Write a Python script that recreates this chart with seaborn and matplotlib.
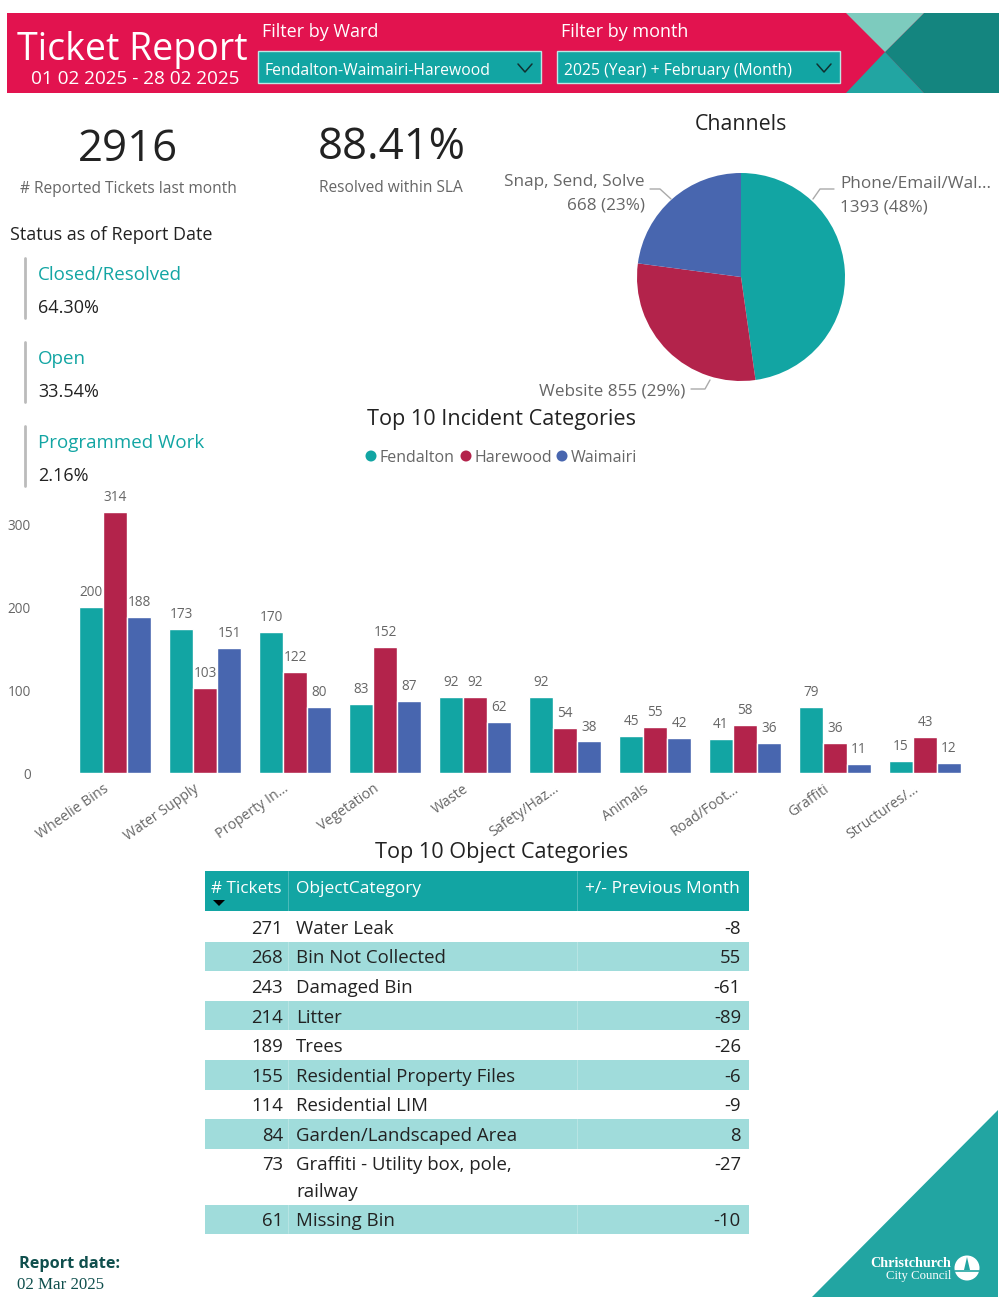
import matplotlib
matplotlib.use("Agg")
import matplotlib.pyplot as plt
from matplotlib.patches import Polygon, Rectangle, Circle
from matplotlib.transforms import ScaledTranslation
import pandas as pd
import seaborn as sns

# ── Data ───────────────────────────────────────────────────────────
CATEGORIES = ["Wheelie Bins", "Water Supply", "Property In...", "Vegetation", "Waste",
              "Safety/Haz...", "Animals", "Road/Foot...", "Graffiti", "Structures/..."]
FENDALTON = [200, 173, 170, 83, 92, 92, 45, 41, 79, 15]
HAREWOOD = [314, 103, 122, 152, 92, 54, 55, 58, 36, 43]
WAIMAIRI = [188, 151, 80, 87, 62, 38, 42, 36, 11, 12]
WARDS = ["Fendalton", "Harewood", "Waimairi"]

CHANNELS = ["Phone/Email/Wal...", "Website", "Snap, Send, Solve"]
CHANNEL_VALUES = [1393, 855, 668]

TICKETS = [271, 268, 243, 214, 189, 155, 114, 84, 73, 61]
OBJECTS = ["Water Leak", "Bin Not Collected", "Damaged Bin", "Litter", "Trees",
           "Residential Property Files", "Residential LIM", "Garden/Landscaped Area",
           "Graffiti - Utility box, pole,\nrailway", "Missing Bin"]
PREV_MONTH = [-8, 55, -61, -89, -26, -6, -9, 8, -27, -10]

STATUS_NAMES = ["Closed/Resolved", "Open", "Programmed Work"]
STATUS_VALUES = ["64.30%", "33.54%", "2.16%"]

# ── Colours ────────────────────────────────────────────────────────
TEAL = "#12A5A3"
RED = "#B3234B"
BLUE = "#4866AF"
PINK = "#E2134F"
BAND = "#A0DCDB"
GREY = "#666666"
DARK = "#222222"
PALETTE = [TEAL, RED, BLUE]

W, H = 1004, 1312
sns.set_theme(style="white")
plt.rcParams["font.family"] = ["Open Sans", "DejaVu Sans"]

fig = plt.figure(figsize=(W / 100, H / 100), dpi=100, facecolor="white")


def box(left, top, right, bottom):
    return [left / W, 1 - bottom / H, (right - left) / W, (bottom - top) / H]


# overlay in pixel coordinates for the page furniture
page = fig.add_axes([0, 0, 1, 1])
page.set_xlim(0, W)
page.set_ylim(H, 0)
page.axis("off")


def put(x, y, s, **kw):
    # the font sits a little high when centred
    kw.setdefault("va", "center")
    return page.text(x, y + 3.7, s, **kw)


# ── Header banner ──────────────────────────────────────────────────
page.add_patch(Rectangle((7, 13), 992, 80, color=PINK, lw=0))
page.add_patch(Polygon([(885, 52), (924, 13), (999, 13), (999, 93), (924, 93)], color="#14857F", lw=0))
page.add_patch(Polygon([(846, 13), (924, 13), (885, 52)], color="#7DCBBE", lw=0))
page.add_patch(Polygon([(846, 93), (885, 52), (924, 93)], color="#22A5A2", lw=0))
put(132, 46, "Ticket Report", color="white", fontsize=27, ha="center")
put(135, 75, "01 02 2025 - 28 02 2025", color="white", fontsize=13.7, ha="center")

for x0, label, value in [(258, "Filter by Ward", "Fendalton-Waimairi-Harewood"),
                         (557, "Filter by month", "2025 (Year) + February (Month)")]:
    width = 283
    put(x0 + 4, 28, label, color="white", fontsize=13, ha="left")
    page.add_patch(Rectangle((x0, 51), width, 32, facecolor=TEAL, edgecolor="#BFE6E4", lw=1))
    put(x0 + 7, 67, value, color="white", fontsize=11.3, ha="left")
    page.plot([x0 + width - 23, x0 + width - 16, x0 + width - 9], [64, 72, 64], color="#103030", lw=1.1)

# ── KPIs ───────────────────────────────────────────────────────────
put(128, 146, "2916", color=DARK, fontsize=31.5, ha="center")
put(128, 185, "# Reported Tickets last month", color=GREY, fontsize=11.2, ha="center")
put(392, 144, "88.41%", color=DARK, fontsize=31.5, ha="center")
put(391, 184, "Resolved within SLA", color=GREY, fontsize=11.2, ha="center")

put(10, 231, "Status as of Report Date", color=DARK, fontsize=13, ha="left")
for i, (name, value) in enumerate(zip(STATUS_NAMES, STATUS_VALUES)):
    top = 258 + i * 84
    page.plot([25, 25], [top, top + 60], color="#BBBBBB", lw=2)
    put(38, top + 13, name, color=TEAL, fontsize=13.5, ha="left")
    put(38, top + 46, value, color=DARK, fontsize=13, ha="left")

# ── Channels pie ───────────────────────────────────────────────────
put(741, 121, "Channels", color=DARK, fontsize=15.4, ha="center")
pie_ax = fig.add_axes(box(637, 173, 845, 381))
pie_ax.pie(CHANNEL_VALUES, colors=PALETTE, startangle=90, counterclock=False, radius=1.0,
           wedgeprops={"linewidth": 0})
pie_ax.set_xlim(-1, 1)
pie_ax.set_ylim(-1, 1)

page.plot([813, 820, 834], [199, 189, 189], color="#AAAAAA", lw=1)
put(840, 180, CHANNELS[0], color=GREY, fontsize=12.3, ha="left")
put(840, 204, f"{CHANNEL_VALUES[0]} (48%)", color=GREY, fontsize=12.3, ha="left")
page.plot([671, 660, 650], [199, 189, 189], color="#AAAAAA", lw=1)
put(645, 178, CHANNELS[2], color=GREY, fontsize=12.3, ha="right")
put(645, 202, f"{CHANNEL_VALUES[2]} (23%)", color=GREY, fontsize=12.3, ha="right")
page.plot([691, 705, 710], [389, 389, 380], color="#AAAAAA", lw=1)
put(685, 388, f"{CHANNELS[1]} {CHANNEL_VALUES[1]} (29%)", color=GREY, fontsize=12.3, ha="right")

# ── Top 10 incident categories ─────────────────────────────────────
put(502, 416, "Top 10 Incident Categories", color=DARK, fontsize=15.6, ha="center")
for x, ward, color in zip([371, 466, 562], WARDS, PALETTE):
    page.add_patch(Circle((x, 456), 5.5, color=color, lw=0))
    put(x + 9, 454, ward, color=GREY, fontsize=11.5, ha="left")

incidents = pd.DataFrame({
    "category": CATEGORIES * 3,
    "ward": [w for w in WARDS for _ in CATEGORIES],
    "tickets": FENDALTON + HAREWOOD + WAIMAIRI,
})
bar_ax = fig.add_axes(box(70, 490, 970, 773))
bar_ax.patch.set_alpha(0)
sns.barplot(data=incidents, x="category", y="tickets", hue="ward", palette=PALETTE,
            width=0.8, gap=0, saturation=1, legend=False, ax=bar_ax)
for container in bar_ax.containers:
    bar_ax.bar_label(container, padding=5, color=GREY, fontsize=9.8)
bar_ax.set_xlim(-0.5, 9.5)
bar_ax.set_ylim(0, 341)
bar_ax.set_yticks([0, 100, 200, 300])
bar_ax.set_xlabel("")
bar_ax.set_ylabel("")
bar_ax.tick_params(axis="y", length=0, pad=28, labelsize=9.8, labelcolor=GREY)
bar_ax.tick_params(axis="x", length=0, pad=6, labelsize=10.2, labelcolor=GREY)
plt.setp(bar_ax.get_xticklabels(), rotation=35, ha="right", rotation_mode="anchor")
nudge = ScaledTranslation(-12 / 100, 0, fig.dpi_scale_trans)
for tick_label in bar_ax.get_xticklabels():
    tick_label.set_transform(tick_label.get_transform() + nudge)
sns.despine(ax=bar_ax, left=True, bottom=True)

# ── Top 10 object categories table ─────────────────────────────────
put(502, 849, "Top 10 Object Categories", color=DARK, fontsize=15.6, ha="center")
page.add_patch(Rectangle((205, 871), 544, 40, color=TEAL, lw=0))
put(282, 885, "# Tickets", color="white", fontsize=12.3, ha="right")
put(296, 885, "ObjectCategory", color="white", fontsize=12.5, ha="left")
put(740, 885, "+/- Previous Month", color="white", fontsize=12.5, ha="right")
page.add_patch(Polygon([(213, 900), (225, 900), (219, 906)], color="black", lw=0))

y = 912
for i, (count, name, delta) in enumerate(zip(TICKETS, OBJECTS, PREV_MONTH)):
    height = 56 if "\n" in name else 29.6
    if i % 2 == 1:
        page.add_patch(Rectangle((205, y), 544, height, color=BAND, lw=0))
    put(283, y + 13, str(count), color=DARK, fontsize=13.3, ha="right")
    put(296, y + 13, name.split("\n")[0], color=DARK, fontsize=13.4, ha="left")
    if "\n" in name:
        put(296, y + 40, name.split("\n")[1], color=DARK, fontsize=13.4, ha="left")
    put(741, y + 13, str(delta), color=DARK, fontsize=13.3, ha="right")
    y += height
for x in [288, 577]:
    page.plot([x, x], [871, 1233], color="white", lw=0.5, alpha=0.35)

# ── Footer ─────────────────────────────────────────────────────────
put(19, 1260, "Report date:", color="#0F4F4D", fontsize=11.7, fontweight="bold", ha="left")
put(17, 1281, "02 Mar 2025", color="#0F4F4D", fontsize=12.2, family="Liberation Serif", ha="left")
page.add_patch(Polygon([(998, 1110), (998, 1297), (812, 1297)], color="#22A5A2", lw=0))
put(951, 1260, "Christchurch", color="white", fontsize=10.2, fontweight="bold", family="Liberation Serif", ha="right")
put(951, 1272, "City Council", color="white", fontsize=9.2, family="Liberation Serif", ha="right")
page.add_patch(Circle((967, 1268), 12.5, color="white", lw=0))
page.add_patch(Polygon([(967, 1257), (970, 1270), (964, 1270)], color="#22A5A2", lw=0))
page.plot([955, 979], [1271, 1271], color="#22A5A2", lw=1.2)

fig.savefig("out.png", dpi=100)
